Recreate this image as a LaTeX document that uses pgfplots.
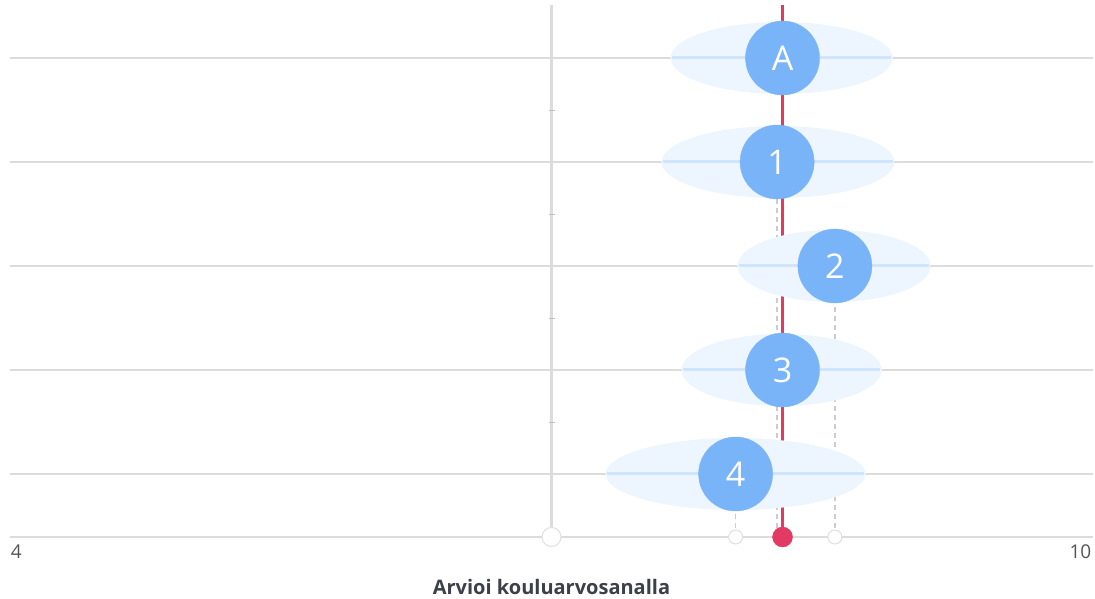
\documentclass[border=0pt]{standalone}
\usepackage{fontspec}
\setmainfont{Open Sans}
\usepackage{pgfplots}
\pgfplotsset{compat=1.18}
\usepackage{pgfplotstable}
\definecolor{gridgray}{HTML}{DCDCDC}
\definecolor{ellfill}{HTML}{EDF5FE}
\definecolor{elline}{HTML}{CFE5FC}
\definecolor{dotblue}{HTML}{7AB4F8}
\definecolor{redline}{HTML}{E23A62}
\definecolor{labelgray}{HTML}{555555}
\definecolor{titlecol}{HTML}{3B4049}
\pgfdeclareplotmark{ellrange}{%
  \pgfsetfillcolor{ellfill}%
  \pgfpathcircle{\pgfpointorigin}{36pt}%
  \pgfusepath{fill}%
  \pgfsetstrokecolor{elline}%
  \pgfsetlinewidth{3pt}%
  \pgfpathmoveto{\pgfqpoint{-35.5pt}{0pt}}%
  \pgfpathlineto{\pgfqpoint{35.5pt}{0pt}}%
  \pgfusepath{stroke}%
}
\pgfplotstableread{
name mean lo hi y
A 8.28 7.66 8.89 479
1 8.25 7.61 8.90 375
2 8.57 8.03 9.10 271
3 8.28 7.72 8.83 167
4 8.02 7.30 8.74 63
}\rows
\begin{document}
\begin{tikzpicture}
\path[use as bounding box] (-10pt,-62pt) rectangle (1085pt,537pt);
\begin{axis}[
  scale only axis, width=1083pt, height=532pt,
  xmin=4, xmax=10, ymin=0, ymax=532,
  clip=false,
  axis line style={draw=none},
  tick style={draw=none},
  ytick={63,167,271,375,479}, yticklabels={},
  ymajorgrids, grid style={gridgray, line width=2.5pt},
  xtick={4.035,9.93}, xticklabels={4,10},
  xticklabel style={text=labelgray, font=\fontsize{19}{19}\selectfont, yshift=-4pt},
  /pgf/number format/assume math mode=true,
  xlabel={Arvioi kouluarvosanalla},
  xlabel style={at={(axis description cs:0.5,0)}, anchor=center, yshift=-50pt, text=titlecol, font=\fontsize{20}{20}\selectfont\bfseries},
]
% baseline
\addplot[gridgray, line width=2.5pt] coordinates {(4,0) (10,0)};
% reference line at 7
\addplot[ycomb, gridgray, line width=2.5pt] coordinates {(7,532)};
\addplot[only marks, mark=-, mark size=3pt, gray!50] coordinates {(7,115) (7,219) (7,323) (7,427)};
% ellipses with range lines
\addplot[scatter, only marks, mark=ellrange, mark size=36pt,
  visualization depends on={\thisrow{hi}-\thisrow{lo} \as \w},
  scatter/use mapped color={draw=ellfill, fill=ellfill},
  scatter/@pre marker code/.append code={\pgfmathsetmacro\sx{\w*180.5/72}\pgftransformxscale{\sx}},
] table[x expr={(\thisrow{lo}+\thisrow{hi})/2}, y=y] {\rows};
% dashed drop lines
\addplot[ycomb, dash pattern=on 5pt off 4pt, gray!40, line width=1.5pt] table[x=mean, y=y] {\rows};
% circles with labels
\addplot[only marks, mark=*, mark size=37pt, mark options={draw=dotblue, fill=dotblue},
  point meta=explicit symbolic,
  nodes near coords,
  every node near coord/.style={anchor=center, text=white, font=\fontsize{34}{34}\selectfont},
] table[x=mean, y=y, meta=name] {\rows};
% average line
\addplot[ycomb, redline, line width=2.5pt] coordinates {(8.28,532)};
% baseline markers
\addplot[only marks, mark=*, mark size=9.5pt, mark options={fill=white, draw=gray!25, line width=1pt}] coordinates {(7,0)};
\addplot[only marks, mark=*, mark size=7pt, mark options={fill=white, draw=gray!25, line width=1pt}] coordinates {(8.02,0) (8.57,0)};
\addplot[only marks, mark=*, mark size=10pt, mark options={fill=redline, draw=redline}] coordinates {(8.28,0)};
\end{axis}
\end{tikzpicture}
\end{document}
